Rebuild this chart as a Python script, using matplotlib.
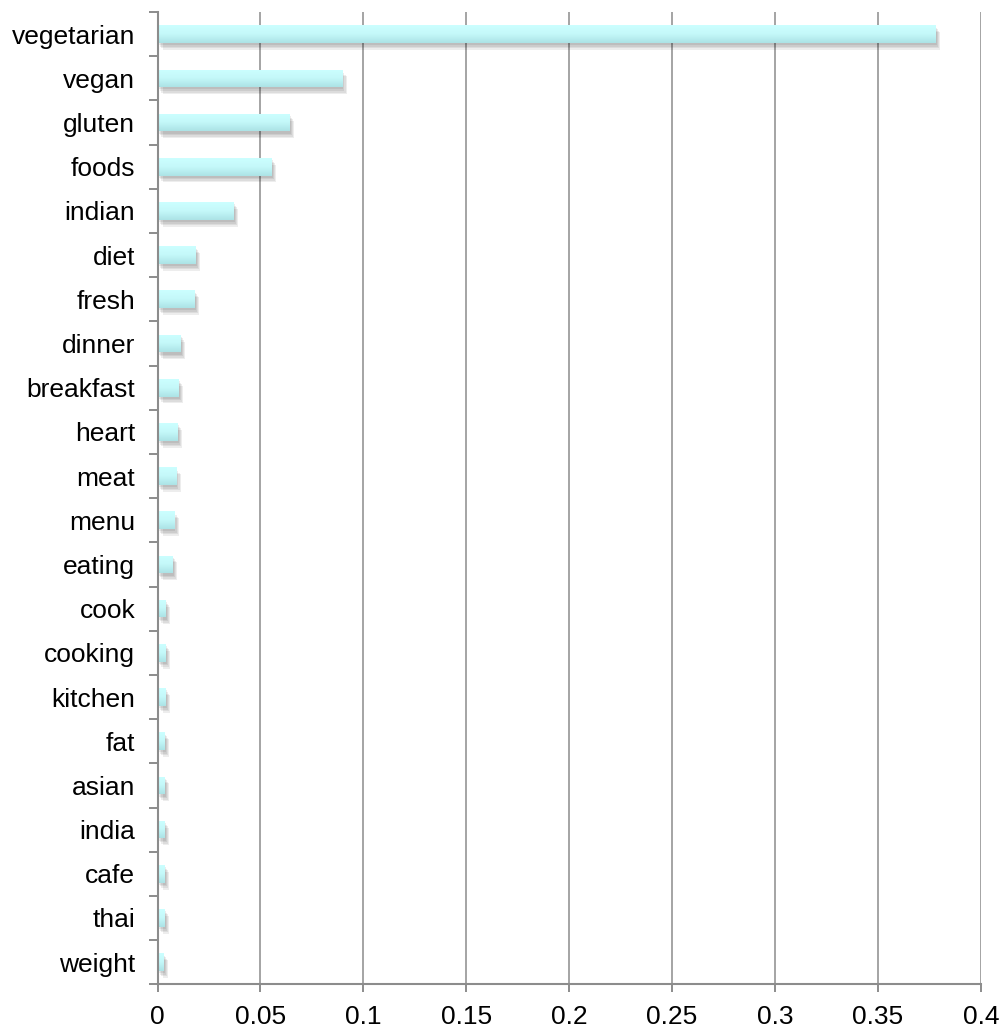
import matplotlib
matplotlib.use("Agg")
import matplotlib.pyplot as plt
import matplotlib.patheffects as pe
import numpy as np
from matplotlib.colors import LinearSegmentedColormap

categories = ["vegetarian", "vegan", "gluten", "foods", "indian", "diet", "fresh",
              "dinner", "breakfast", "heart", "meat", "menu", "eating", "cook",
              "cooking", "kitchen", "fat", "asian", "india", "cafe", "thai", "weight"]
values = [0.3778, 0.0895, 0.0640, 0.0552, 0.0367, 0.0182, 0.0177,
          0.0109, 0.0100, 0.0095, 0.0088, 0.0079, 0.0070, 0.0036,
          0.0036, 0.0036, 0.0032, 0.0032, 0.0032, 0.0032, 0.0032, 0.0027]
xticks = [0, 0.05, 0.1, 0.15, 0.2, 0.25, 0.3, 0.35, 0.4]
xticklabels = ["0", "0.05", "0.1", "0.15", "0.2", "0.25", "0.3", "0.35", "0.4"]

plt.rcParams['font.family'] = ['Liberation Sans', 'DejaVu Sans']

fig = plt.figure(figsize=(10.02, 10.30), dpi=100)
ax = fig.add_axes([0.1572, 0.0444, 0.9788 - 0.1572, 0.9883 - 0.0444])

n = len(categories)
ypos = np.arange(n)
h = 0.40
axis_col = "#8c8c8c"

grad_cmap = LinearSegmentedColormap.from_list("g", ["#ccffff", "#c4f8f9", "#ace3e6"])
grad = np.linspace(0, 1, 64).reshape(-1, 1)

shadow = [pe.SimplePatchShadow(offset=(o * 0.8, -o * 1.1), shadow_rgbFace="#000000", alpha=0.07)
          for o in (4.5, 3.5, 2.5, 1.5)]
bars = ax.barh(ypos, values, height=h, color="#bff5f6", edgecolor="none", zorder=3,
               path_effects=shadow + [pe.Normal()])
for b in bars:
    x0, y0 = b.get_x(), b.get_y()
    w, hh = b.get_width(), b.get_height()
    im = ax.imshow(grad, cmap=grad_cmap, aspect="auto",
                   extent=(x0, x0 + w, y0 + hh, y0), origin="upper", zorder=4)
    im.set_clip_path(b)

ax.set_xlim(0, 0.4)
ax.set_ylim(n - 0.5, -0.5)

ax.set_xticks(xticks)
ax.set_xticklabels(xticklabels, fontsize=19)
ax.set_yticks(ypos)
ax.set_yticklabels(categories, fontsize=19)
ax.set_yticks(np.arange(-0.5, n, 1.0), minor=True)

ax.tick_params(axis="y", which="major", length=0, pad=16)
ax.tick_params(axis="y", which="minor", length=6.5, width=1.4, color=axis_col, direction="out")
ax.tick_params(axis="x", which="major", length=6, width=1.4, color=axis_col, direction="out", pad=9)

for xv in xticks[1:]:
    ax.axvline(xv, color=axis_col, linewidth=1.1, zorder=1)

for s in ["top", "right"]:
    ax.spines[s].set_visible(False)
for s in ["left", "bottom"]:
    ax.spines[s].set_color(axis_col)
    ax.spines[s].set_linewidth(1.5)
    ax.spines[s].set_zorder(5)

fig.savefig("out.png", dpi=100)
